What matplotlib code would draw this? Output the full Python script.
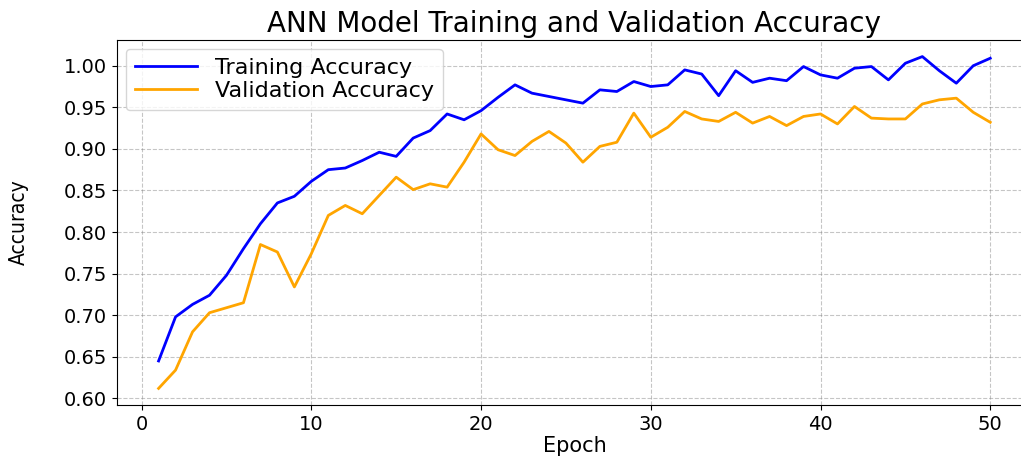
import matplotlib
matplotlib.use('Agg')
import matplotlib.pyplot as plt
import numpy as np

## data
epochs = np.arange(1, 51)
train_acc = [0.645, 0.698, 0.713, 0.724, 0.748, 0.780, 0.810, 0.835, 0.843, 0.861,
             0.875, 0.877, 0.886, 0.896, 0.891, 0.913, 0.922, 0.942, 0.935, 0.946,
             0.962, 0.977, 0.967, 0.963, 0.959, 0.955, 0.971, 0.969, 0.981, 0.975,
             0.977, 0.995, 0.990, 0.964, 0.994, 0.980, 0.985, 0.982, 0.999, 0.989,
             0.985, 0.997, 0.999, 0.983, 1.003, 1.011, 0.994, 0.979, 1.000, 1.009]
val_acc = [0.612, 0.634, 0.680, 0.703, 0.709, 0.715, 0.785, 0.776, 0.734, 0.774,
           0.820, 0.832, 0.822, 0.844, 0.866, 0.851, 0.858, 0.854, 0.884, 0.918,
           0.899, 0.892, 0.909, 0.921, 0.907, 0.884, 0.903, 0.908, 0.943, 0.914,
           0.926, 0.945, 0.936, 0.933, 0.944, 0.931, 0.939, 0.928, 0.939, 0.942,
           0.930, 0.951, 0.937, 0.936, 0.936, 0.954, 0.959, 0.961, 0.944, 0.932]

fig = plt.figure(figsize=(10.21, 4.57), dpi=100)
# axes runs a bit past the right edge, like the cropped original
ax = fig.add_axes([0.1146, 0.1138, 0.896, 0.7987])

ax.plot(epochs, train_acc, color='blue', lw=2.0, label='Training Accuracy')
ax.plot(epochs, val_acc, color='orange', lw=2.0, label='Validation Accuracy')

ax.set_title('ANN Model Training and Validation Accuracy', fontsize=20, pad=6)
ax.set_xlabel('Epoch', fontsize=15, labelpad=2)
ax.set_ylabel('Accuracy', fontsize=15, fontstretch='condensed', labelpad=25)
ax.tick_params(labelsize=14)
ax.set_yticks(np.arange(0.60, 1.001, 0.05))
ax.spines['right'].set_visible(False)
ax.grid(True, linestyle='--', color='gray', alpha=0.45, lw=0.8)
ax.legend(loc='upper left', fontsize=16, handlelength=2.8, labelspacing=0.15,
          borderaxespad=0.4)

plt.savefig('out.png', dpi=100)
